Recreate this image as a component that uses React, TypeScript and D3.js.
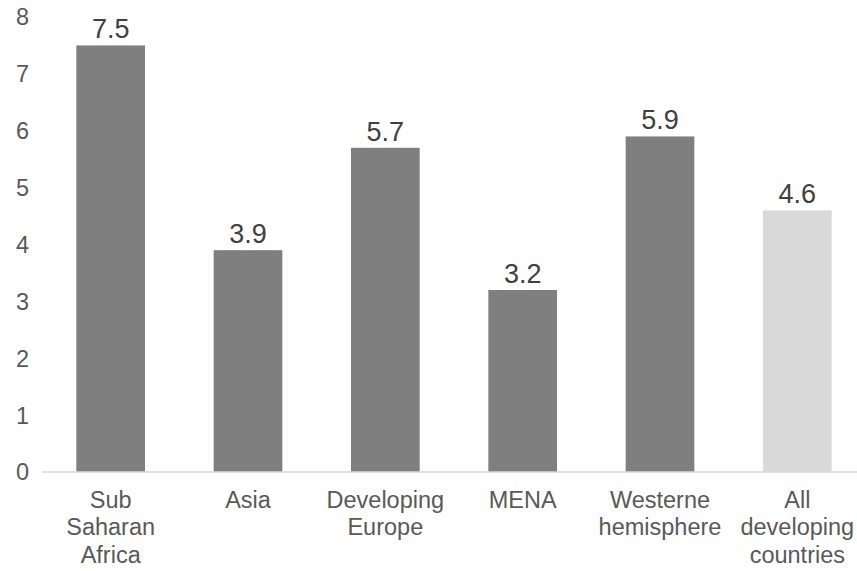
import React from 'react'
import * as d3 from 'd3'

// chart data
const categories: string[][] = [
    ['Sub', 'Saharan', 'Africa'],
    ['Asia'],
    ['Developing', 'Europe'],
    ['MENA'],
    ['Westerne', 'hemisphere'],
    ['All', 'developing', 'countries'],
]
const values = [7.5, 3.9, 5.7, 3.2, 5.9, 4.6]
const highlighted = [false, false, false, false, false, true]
const yTicks = [0, 1, 2, 3, 4, 5, 6, 7, 8]

const App = () => {
    const width = 857
    const height = 571
    const fontFamily = '"Liberation Sans", Arial, sans-serif'

    // x spans past the right edge, like the original crop
    const x = d3
        .scaleBand<number>()
        .domain(values.map((_, i) => i))
        .range([42, 866])
        .paddingInner(0.5)
        .paddingOuter(0.25)
    const y = d3.scaleLinear().domain([0, 8]).range([472, 17])

    return (
        <svg
            width={width}
            height={height}
            style={{ position: 'absolute', left: 0, top: 0, background: '#fff' }}
            fontFamily={fontFamily}
        >
            {/* y tick labels */}
            {yTicks.map((t) => (
                <text
                    key={t}
                    x={29}
                    y={y(t)}
                    dy="0.36em"
                    textAnchor="end"
                    fontSize={23.5}
                    fill="#595959"
                >
                    {t}
                </text>
            ))}

            {/* bars */}
            {values.map((v, i) => (
                <rect
                    key={i}
                    x={x(i)}
                    y={y(v)}
                    width={x.bandwidth()}
                    height={y(0) - y(v)}
                    fill={highlighted[i] ? '#d9d9d9' : '#7f7f7f'}
                />
            ))}

            {/* baseline */}
            <line x1={42} x2={width} y1={y(0)} y2={y(0)} stroke="#d9d9d9" strokeWidth={1.5} />

            {/* value labels */}
            {values.map((v, i) => (
                <text
                    key={i}
                    x={(x(i) || 0) + x.bandwidth() / 2}
                    y={y(v) - 7}
                    textAnchor="middle"
                    fontSize={27}
                    fill="#404040"
                >
                    {v.toFixed(1)}
                </text>
            ))}

            {/* category labels */}
            {categories.map((lines, i) => (
                <text
                    key={i}
                    x={(x(i) || 0) + x.bandwidth() / 2}
                    textAnchor="middle"
                    fontSize={23.5}
                    fill="#595959"
                >
                    {lines.map((l, j) => (
                        <tspan key={j} x={(x(i) || 0) + x.bandwidth() / 2} y={508 + j * 27.3}>
                            {l}
                        </tspan>
                    ))}
                </text>
            ))}
        </svg>
    )
}

export default App
